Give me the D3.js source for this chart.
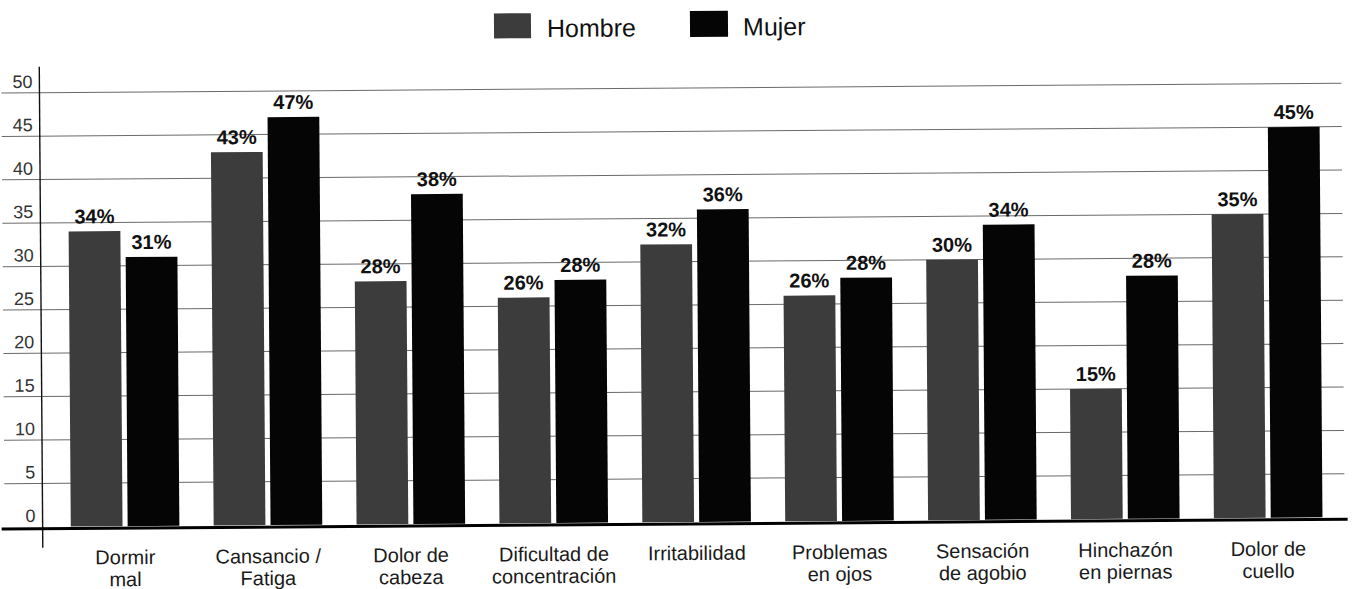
<!DOCTYPE html>
<html>
<head>
<meta charset="utf-8">
<script src="https://cdn.jsdelivr.net/npm/d3@7"></script>
<style>
  html, body { margin: 0; padding: 0; background: #fff; }
  svg { display: block; font-family: "Liberation Sans", Arial, Helvetica, sans-serif; }
</style>
</head>
<body>
<svg id="chart" width="1352" height="589"></svg>
<script>
// ---- data ----
const categories = [
  ["Dormir", "mal"],
  ["Cansancio /", "Fatiga"],
  ["Dolor de", "cabeza"],
  ["Dificultad de", "concentración"],
  ["Irritabilidad"],
  ["Problemas", "en ojos"],
  ["Sensación", "de agobio"],
  ["Hinchazón", "en piernas"],
  ["Dolor de", "cuello"]
];
const seriesNames = ["Hombre", "Mujer"];
const hombre = [34, 43, 28, 26, 32, 26, 30, 15, 35];
const mujer  = [31, 47, 38, 28, 36, 28, 34, 28, 45];
const yTicks = [0, 5, 10, 15, 20, 25, 30, 35, 40, 45, 50];
const colors = ["#3c3c3c", "#050505"];

// ---- layout ----
const svg = d3.select("#chart");
const g = svg.append("g").attr("transform", "rotate(-0.42, 690, 300)");

const catKeys = categories.map(c => c.join(" "));
const x0 = d3.scaleBand().domain(catKeys).range([52, 1338]).paddingInner(0.24).paddingOuter(0.12);
const x1 = d3.scaleBand().domain(seriesNames).range([0, x0.bandwidth()]).paddingInner(0.09);
const y = d3.scaleLinear().domain([0, 50]).range([522, 88]);

// gridlines
g.append("g").selectAll("line").data(yTicks.filter(t => t > 0)).join("line")
  .attr("x1", 3).attr("x2", 1343)
  .attr("y1", d => y(d)).attr("y2", d => y(d))
  .attr("stroke", "#6a6a6a").attr("stroke-width", 1);

// y tick labels
g.append("g").selectAll("text").data(yTicks).join("text")
  .attr("x", 34).attr("y", d => y(d) - 5)
  .attr("text-anchor", "end")
  .attr("font-size", 18).attr("fill", "#333")
  .text(d => d);

// vertical axis line
g.append("line").attr("x1", 41).attr("x2", 41).attr("y1", 62).attr("y2", 543)
  .attr("stroke", "#111").attr("stroke-width", 1.4);

// bars
const data = catKeys.map((k, i) => ({ key: k, values: [hombre[i], mujer[i]] }));
const groups = g.append("g").selectAll("g").data(data).join("g")
  .attr("transform", d => `translate(${x0(d.key)},0)`);

groups.selectAll("rect").data(d => d.values.map((v, j) => ({ s: seriesNames[j], v, j })))
  .join("rect")
  .attr("x", d => x1(d.s)).attr("width", x1.bandwidth())
  .attr("y", d => y(d.v)).attr("height", d => y(0) - y(d.v))
  .attr("fill", d => colors[d.j]);

groups.selectAll("text.val").data(d => d.values.map((v, j) => ({ s: seriesNames[j], v, j })))
  .join("text").attr("class", "val")
  .attr("x", d => x1(d.s) + x1.bandwidth() / 2)
  .attr("y", d => y(d.v) - 8)
  .attr("text-anchor", "middle")
  .attr("font-size", 20).attr("font-weight", "bold").attr("fill", "#111")
  .text(d => d.v + "%");

// bottom axis line
g.append("line").attr("x1", 0).attr("x2", 1346).attr("y1", y(0) + 2).attr("y2", y(0) + 2)
  .attr("stroke", "#000").attr("stroke-width", 3);

// category labels
const catG = g.append("g").selectAll("text").data(categories).join("text")
  .attr("x", (d, i) => x0(catKeys[i]) + x0.bandwidth() / 2)
  .attr("y", 560)
  .attr("text-anchor", "middle")
  .attr("font-size", 20).attr("fill", "#1a1a1a");
catG.selectAll("tspan").data(d => d).join("tspan")
  .attr("x", function () { return d3.select(this.parentNode).attr("x"); })
  .attr("dy", (d, i) => i === 0 ? 0 : 22)
  .text(d => d);

// legend
const legendItems = [
  { name: seriesNames[0], color: colors[0], sx: 496, sy: 12, sw: 37, sh: 25, tx: 549 },
  { name: seriesNames[1], color: colors[1], sx: 692, sy: 11, sw: 38, sh: 26, tx: 745 }
];
const lg = g.append("g").selectAll("g").data(legendItems).join("g");
lg.append("rect").attr("x", d => d.sx).attr("y", d => d.sy)
  .attr("width", d => d.sw).attr("height", d => d.sh).attr("fill", d => d.color);
lg.append("text").attr("x", d => d.tx).attr("y", 36)
  .attr("font-size", 25).attr("fill", "#111").text(d => d.name);
</script>
</body>
</html>
